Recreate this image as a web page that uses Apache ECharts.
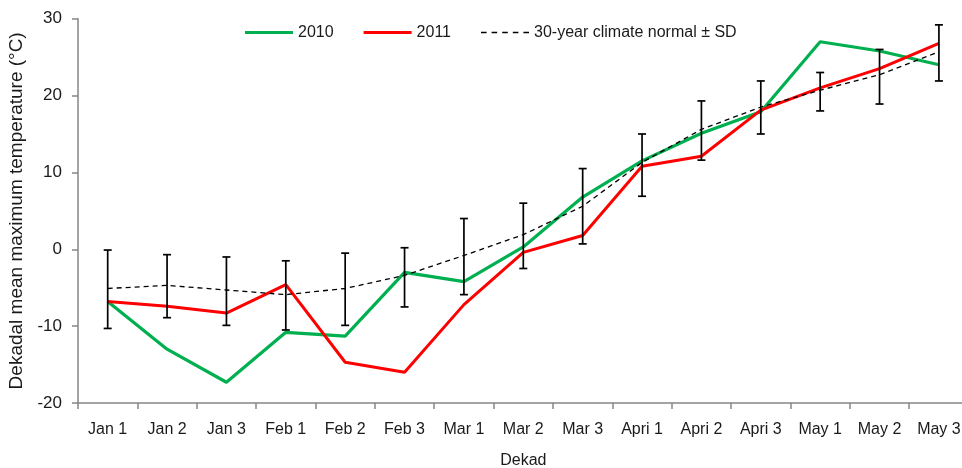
<!DOCTYPE html>
<html>
<head>
<meta charset="utf-8">
<script src="https://cdn.jsdelivr.net/npm/echarts@6/dist/echarts.min.js"></script>
<style>
html,body{margin:0;padding:0;background:#fff;overflow:hidden;}
#chart{width:962px;height:468px;}
</style>
</head>
<body>
<div id="chart"></div>
<script>
const categories = ['Jan 1','Jan 2','Jan 3','Feb 1','Feb 2','Feb 3','Mar 1','Mar 2','Mar 3','Apri 1','Apri 2','Apri 3','May 1','May 2','May 3'];
const series2010 = [-6.8,-13.0,-17.3,-10.8,-11.3,-3.0,-4.2,0.3,6.8,11.5,15.1,17.9,27.0,25.8,24.0];
const series2011 = [-6.8,-7.4,-8.3,-4.6,-14.7,-16.0,-7.2,-0.4,1.8,10.8,12.1,18.1,21.0,23.5,26.8];
const normal = [-5.1,-4.7,-5.3,-5.9,-5.1,-3.4,-0.8,1.9,5.6,11.3,15.6,18.5,20.7,22.7,25.7];
const sdLow = [-10.3,-8.9,-9.9,-10.5,-9.9,-7.5,-5.9,-2.5,0.7,6.9,11.6,15.0,18.0,18.9,21.9];
const sdHigh = [-0.1,-0.7,-1.0,-1.5,-0.5,0.2,4.0,6.0,10.5,15.0,19.3,21.9,23.0,26.0,29.2];
const yTicks = {min:-20, max:30, interval:10};

const FONT = '"Liberation Sans",Arial,sans-serif';
const TXT = '#1a1a1a';
const chart = echarts.init(document.getElementById('chart'));
const errData = categories.map((c,i)=>[i, sdLow[i], sdHigh[i]]);
const solidIcon = 'path://M0,4L48,4L48,7L0,7Z';
const dashIcon = 'path://M0,0h5v1.4h-5zM9.5,0h5v1.4h-5zM19,0h5v1.4h-5zM28.5,0h5v1.4h-5zM38,0h5v1.4h-5z';

chart.setOption({
  animation:false,
  textStyle:{fontFamily:FONT},
  grid:{left:78, top:18.7, bottom:65, right:-6.6, containLabel:false, outerBoundsMode:'none'},
  legend:{
    top:19.5, left:240,
    itemWidth:48, itemHeight:10, itemGap:30,
    textStyle:{fontFamily:FONT, fontSize:16, color:TXT},
    data:[
      {name:'2010', icon:solidIcon},
      {name:'2011', icon:solidIcon},
      {name:'30-year climate normal ± SD', icon:dashIcon}
    ]
  },
  xAxis:{
    type:'category', data:categories, boundaryGap:true,
    name:'Dekad', nameLocation:'middle', nameGap:50,
    nameTextStyle:{fontFamily:FONT, fontSize:16, color:TXT},
    axisLine:{onZero:false, lineStyle:{color:'#868686', width:1.5}},
    axisTick:{show:true, length:6, lineStyle:{color:'#868686', width:1.5}},
    axisLabel:{fontFamily:FONT, fontSize:16, color:TXT, margin:19, interval:0},
    splitLine:{show:false}
  },
  yAxis:{
    type:'value', min:yTicks.min, max:yTicks.max, interval:yTicks.interval,
    name:'Dekadal mean maximum temperature (°C)', nameLocation:'middle', nameGap:43, nameRotate:90,
    nameTextStyle:{fontFamily:FONT, fontSize:19, color:TXT},
    axisLine:{show:true, lineStyle:{color:'#868686', width:1.5}},
    axisTick:{show:true, length:6, lineStyle:{color:'#868686', width:1.5}},
    axisLabel:{fontFamily:FONT, fontSize:17, color:TXT, margin:16},
    splitLine:{show:false}
  },
  series:[
    {name:'2010', type:'line', data:series2010, symbol:'none', z:3,
     lineStyle:{color:'#00B050', width:3.2}, itemStyle:{color:'#00B050'}},
    {name:'2011', type:'line', data:series2011, symbol:'none', z:4,
     lineStyle:{color:'#FF0000', width:3}, itemStyle:{color:'#FF0000'}},
    {name:'30-year climate normal ± SD', type:'line', data:normal, symbol:'none', z:5,
     lineStyle:{color:'#000', width:1.3, type:[5,4]}, itemStyle:{color:'#000'}},
    {name:'sd', type:'custom', data:errData, z:6, silent:true,
     renderItem:function(params, api){
       const x = api.value(0);
       const lo = api.coord([x, api.value(1)]);
       const hi = api.coord([x, api.value(2)]);
       const hw = 4;
       const st = {stroke:'#000', lineWidth:1.7};
       return {type:'group', children:[
         {type:'line', shape:{x1:lo[0], y1:lo[1], x2:hi[0], y2:hi[1]}, style:st},
         {type:'line', shape:{x1:lo[0]-hw, y1:lo[1], x2:lo[0]+hw, y2:lo[1]}, style:st},
         {type:'line', shape:{x1:hi[0]-hw, y1:hi[1], x2:hi[0]+hw, y2:hi[1]}, style:st}
       ]};
     },
     encode:{x:0, y:[1,2]}}
  ]
});
</script>
</body>
</html>
